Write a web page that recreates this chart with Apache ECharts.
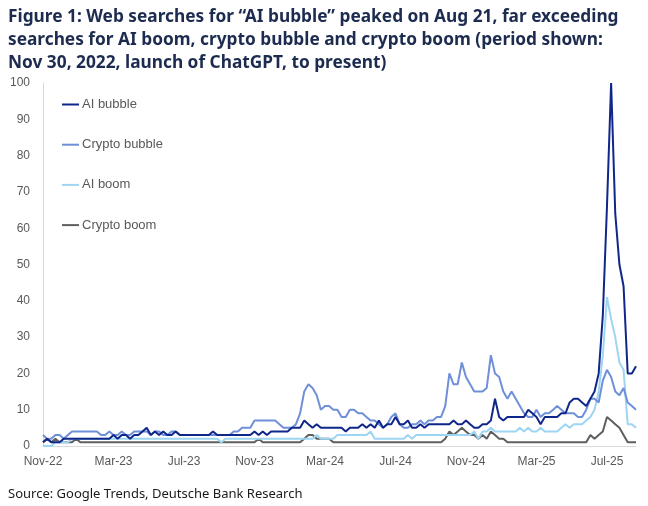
<!DOCTYPE html>
<html>
<head>
<meta charset="utf-8">
<script src="https://cdn.jsdelivr.net/npm/echarts@6/dist/echarts.min.js"></script>
<style>
  html, body { margin: 0; padding: 0; background: #fff; }
  #chart { width: 648px; height: 506px; }
</style>
</head>
<body>
<div id="chart"></div>
<script>
// weekly Google Trends index, first week starting 27 Nov 2022
var startWeek = new Date(Date.UTC(2022, 10, 27));
var weekCount = 144;
var monthNames = ['Jan', 'Feb', 'Mar', 'Apr', 'May', 'Jun', 'Jul', 'Aug', 'Sep', 'Oct', 'Nov', 'Dec'];

var aiBubble = [
  1, 2, 1, 1, 1, 2, 2, 2, 2, 2, 2, 2, 2, 2, 2, 2, 2, 3, 2, 3, 3, 2, 3, 3, 4, 5, 3,
  4, 3, 4, 3, 3, 4, 3, 3, 3, 3, 3, 3, 3, 3, 4, 3, 3, 3, 3, 3, 3, 3, 3, 3, 4, 3,
  4, 3, 4, 4, 4, 4, 4, 5, 5, 5, 7, 6, 5, 6, 5, 5, 5, 5, 5, 5, 4, 5, 5, 5, 6, 5, 6,
  5, 7, 5, 6, 6, 8, 6, 6, 7, 5, 5, 6, 5, 6, 6, 6, 6, 6, 6, 7, 6, 6, 7, 6, 5, 5, 6,
  6, 7, 13, 8, 7, 8, 8, 8, 8, 8, 10, 9, 8, 6, 8, 8, 8, 8, 9, 9,
  12, 13, 13, 12, 11, 13, 15, 20, 36, 66, 100, 64, 50, 44, 20, 20, 22
];
var cryptoBubble = [
  3, 2, 2, 3, 3, 2, 3, 4, 4, 4, 4, 4, 4, 4, 3, 3, 4, 3, 3, 4, 3, 3, 4, 4, 4, 4, 3,
  4, 4, 3, 3, 4, 4, 3, 3, 3, 3, 3, 3, 3, 3, 3, 3, 3, 3, 3, 4, 4, 5, 5, 5, 7, 7,
  7, 7, 7, 7, 6, 5, 5, 5, 6, 9, 15, 17, 16, 14, 10, 11, 11, 10, 10, 8, 8, 10, 10, 9, 9, 8, 7,
  7, 6, 5, 6, 8, 9, 6, 5, 5, 6, 6, 7, 6, 7, 7, 8, 8, 11, 20, 17, 17, 23, 19, 17, 15, 15, 15,
  16, 25, 20, 19, 15, 13, 15, 13, 11, 9, 8, 8, 10, 8, 9, 9, 10, 11, 10, 9,
  9, 9, 8, 8, 10, 13, 13, 12, 18, 21, 19, 15, 14, 16, 12, 11, 10
];
var aiBoom = [
  0, 0, 0, 1, 1, 1, 1, 2, 2, 2, 2, 2, 2, 2, 2, 2, 2, 2, 2, 2, 2, 2, 2, 2, 2, 2, 2,
  2, 2, 2, 2, 2, 2, 2, 2, 2, 2, 2, 2, 2, 2, 2, 2, 1, 2, 2, 2, 2, 2, 2, 2, 2, 2,
  2, 2, 2, 2, 2, 2, 2, 2, 2, 2, 2, 2, 2, 3, 2, 2, 2, 2, 3, 3, 3, 3, 3, 3, 3, 3, 4,
  2, 2, 2, 2, 2, 2, 2, 2, 3, 2, 3, 3, 3, 3, 3, 3, 3, 3, 3, 3, 3, 3, 3, 3, 4, 2, 4,
  4, 5, 4, 4, 4, 4, 4, 4, 5, 4, 5, 4, 4, 5, 4, 4, 4, 4, 5, 6,
  5, 6, 6, 6, 7, 8, 10, 15, 25, 41, 35, 30, 23, 21, 6, 6, 5
];
var cryptoBoom = [
  1, 2, 1, 2, 1, 1, 1, 1, 2, 1, 1, 1, 1, 1, 1, 1, 1, 1, 1, 1, 1, 1, 1, 1, 1, 1, 1,
  1, 1, 1, 1, 1, 1, 1, 1, 1, 1, 1, 1, 1, 1, 1, 1, 1, 1, 1, 1, 1, 1, 1, 1, 1, 2,
  1, 1, 1, 1, 1, 1, 1, 1, 1, 1, 2, 3, 3, 2, 2, 2, 2, 1, 1, 1, 1, 1, 1, 1, 1, 1, 1,
  1, 1, 1, 1, 1, 1, 1, 1, 1, 1, 1, 1, 1, 1, 1, 1, 1, 2, 4, 3, 4, 5, 4, 3, 3, 2, 3,
  2, 4, 3, 2, 2, 1, 1, 1, 1, 1, 1, 1, 1, 1, 1, 1, 1, 1, 1, 1,
  1, 1, 1, 1, 1, 3, 2, 3, 4, 8, 7, 6, 5, 3, 1, 1, 1
];

var weeks = [];
for (var i = 0; i < weekCount; i++) {
  var d = new Date(startWeek.getTime() + i * 7 * 86400000);
  weeks.push(monthNames[d.getUTCMonth()] + '-' + String(d.getUTCFullYear()).slice(2));
}

var myChart = echarts.init(document.getElementById('chart'));
var font = 'Liberation Sans, Arial, sans-serif';

function makeLine(name, data, color) {
  return {
    name: name,
    type: 'line',
    data: data,
    symbol: 'none',
    lineStyle: { width: 2, color: color },
    itemStyle: { color: color }
  };
}

var option = {
  animation: false,
  title: [
    {
      text: 'Figure 1: Web searches for \u201cAI bubble\u201d peaked on Aug 21, far exceeding\nsearches for AI boom, crypto bubble and crypto boom (period shown:\nNov 30, 2022, launch of ChatGPT, to present)',
      left: 3,
      top: 1,
      textStyle: {
        fontFamily: 'Noto Sans',
        fontSize: 17.3,
        fontWeight: 'bold',
        color: '#1c2b4f',
        lineHeight: 23
      }
    },
    {
      text: 'Source: Google Trends, Deutsche Bank Research',
      left: 3,
      top: 483,
      textStyle: {
        fontFamily: 'Noto Sans',
        fontSize: 13,
        fontWeight: 'normal',
        color: '#1a1a1a'
      }
    }
  ],
  legend: {
    orient: 'vertical',
    left: 57,
    top: 93,
    itemWidth: 17,
    itemHeight: 12,
    itemGap: 27.2,
    icon: 'path://M0,5 L17,5 L17,7 L0,7 Z',
    textStyle: { fontFamily: font, fontSize: 13, color: '#595959', padding: [0, 0, 0, -2] },
    data: ['AI bubble', 'Crypto bubble', 'AI boom', 'Crypto boom']
  },
  grid: { left: 43, right: 12, top: 83, bottom: 60 },
  xAxis: {
    type: 'category',
    boundaryGap: false,
    data: weeks,
    axisLine: { lineStyle: { color: '#d9d9d9', width: 1 } },
    axisTick: { show: false },
    axisLabel: {
      interval: 16,
      margin: 10,
      fontFamily: font,
      fontSize: 12,
      color: '#595959'
    }
  },
  yAxis: {
    type: 'value',
    min: 0,
    max: 100,
    interval: 10,
    axisLine: { show: true, lineStyle: { color: '#d9d9d9', width: 1 } },
    axisTick: { show: false },
    splitLine: { show: false },
    axisLabel: { margin: 13, fontFamily: font, fontSize: 12, color: '#595959' }
  },
  series: [
    makeLine('Crypto boom', cryptoBoom, '#5f5f5f'),
    makeLine('AI boom', aiBoom, '#9dd5f2'),
    makeLine('Crypto bubble', cryptoBubble, '#6f8fd9'),
    makeLine('AI bubble', aiBubble, '#10278a')
  ]
};
option && myChart.setOption(option);
</script>
</body>
</html>
